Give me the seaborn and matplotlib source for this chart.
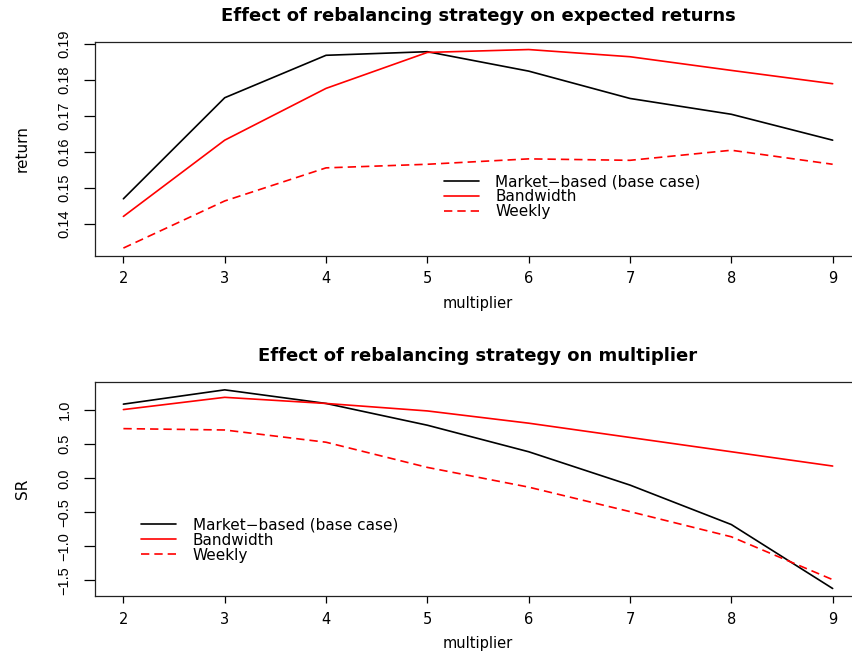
import pandas as pd
import seaborn as sns
import matplotlib.pyplot as plt

multiplier = [2, 3, 4, 5, 6, 7, 8, 9]

# expected returns
ret_market = [0.1470, 0.1751, 0.1869, 0.1879, 0.1825, 0.1749, 0.1705, 0.1633]
ret_bandwidth = [0.1421, 0.1633, 0.1777, 0.1877, 0.1885, 0.1865, 0.1827, 0.1790]
ret_weekly = [0.1333, 0.1464, 0.1556, 0.1566, 0.1581, 0.1577, 0.1605, 0.1566]

# sharpe ratio
sr_market = [1.09, 1.30, 1.10, 0.78, 0.39, -0.10, -0.68, -1.62]
sr_bandwidth = [1.01, 1.19, 1.10, 0.99, 0.81, 0.60, 0.39, 0.18]
sr_weekly = [0.73, 0.71, 0.53, 0.16, -0.13, -0.49, -0.86, -1.49]

labels = ['Market\u2212based (base case)', 'Bandwidth', 'Weekly']

sns.set_style('ticks')
plt.rcParams['font.family'] = ['DejaVu Sans']
plt.rcParams['text.color'] = 'black'
plt.rcParams['axes.labelcolor'] = 'black'

fig = plt.figure(figsize=(8.53, 6.52), dpi=100)
ax1 = fig.add_axes([0.1114, 0.6074, 0.898, 0.3282])
ax2 = fig.add_axes([0.1114, 0.0854, 0.898, 0.3292])


def draw(ax, vals, title, ylabel, ylim, yticks, ytl, leg_loc):
    df = pd.DataFrame({'multiplier': multiplier * 3,
                       'value': vals[0] + vals[1] + vals[2],
                       'strategy': [labels[0]] * 8 + [labels[1]] * 8 + [labels[2]] * 8})
    sns.lineplot(data=df, x='multiplier', y='value', hue='strategy', style='strategy',
                 palette=['black', 'red', 'red'], dashes=[(None, None), (None, None), (5, 3)],
                 linewidth=1.2, ax=ax)
    ax.set_xlim(1.72, 9.28)
    ax.set_ylim(*ylim)
    ax.set_xticks(multiplier)
    ax.set_yticks(yticks)
    ax.set_yticklabels(ytl, rotation=90, va='center', family='Liberation Sans')
    ax.tick_params(direction='out', width=0.9, labelsize=10.5, colors='black')
    ax.tick_params(axis='x', length=5, pad=6)
    ax.tick_params(axis='y', length=8, pad=9, labelsize=10.5)
    ax.set_title(title, fontsize=13, fontweight='bold', pad=15, color='black')
    ax.set_xlabel('multiplier', fontsize=10.5, labelpad=7)
    ax.set_ylabel(ylabel, fontsize=11, labelpad=20)
    for s in ['left', 'bottom', 'top']:
        ax.spines[s].set_color('#222222')
        ax.spines[s].set_linewidth(0.9)
    ax.spines['right'].set_visible(False)
    ax.legend(loc='center left', bbox_to_anchor=leg_loc, frameon=False, fontsize=11,
              handlelength=2.3, handletextpad=1.1, labelspacing=0.0, borderaxespad=0)


draw(ax1, [ret_market, ret_bandwidth, ret_weekly],
     'Effect of rebalancing strategy on expected returns', 'return',
     (0.1311, 0.1906), [0.14, 0.15, 0.16, 0.17, 0.18, 0.19],
     ['0.14', '0.15', '0.16', '0.17', '0.18', '0.19'], (0.447, 0.276))
draw(ax2, [sr_market, sr_bandwidth, sr_weekly],
     'Effect of rebalancing strategy on multiplier', 'SR',
     (-1.735, 1.42), [-1.5, -1.0, -0.5, 0.0, 0.5, 1.0],
     ['\u22121.5', '\u22121.0', '\u22120.5', '0.0', '0.5', '1.0'], (0.052, 0.262))

fig.savefig('out.png', dpi=100)
